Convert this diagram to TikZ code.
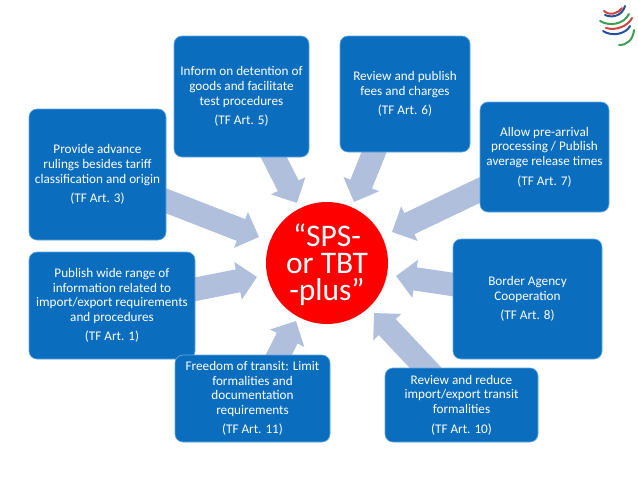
\documentclass[tikz,border=0pt]{standalone}
\usepackage{fontspec}
\setmainfont{Carlito}
\usepackage{xcolor}
\definecolor{tfblue}{HTML}{0A6DBE}
\definecolor{tfedge}{HTML}{5FA8E0}
\definecolor{arrowblue}{HTML}{AFBFDC}
\definecolor{wtored}{HTML}{D0443F}
\definecolor{wtoblue}{HTML}{27509B}
\definecolor{wtogreen}{HTML}{3E9E55}
\usetikzlibrary{arrows.meta, positioning, backgrounds}

\begin{document}
\begin{tikzpicture}[
    x=0.75pt, y=-0.75pt,
    tf_box/.style={rectangle, rounded corners=6pt, fill=tfblue, draw=tfedge, line width=0.5pt, text=white, font=\fontsize{9.9}{11}\selectfont, align=center, inner sep=0pt},
    hub/.style={circle, fill=red, text=white, minimum size=91.5pt, inner sep=0pt, align=center, font=\fontsize{23.6}{20.2}\selectfont},
    block_arrow/.style={-{Triangle[width=28pt, length=14.5pt]}, line width=17.5pt, color=arrowblue, shorten <=-8pt},
    logo_arc/.style={line width=1.5pt, line cap=round}
]
\useasboundingbox (0,0) rectangle (638,479);

% BOXES
\node[tf_box, minimum width=102.75pt, minimum height=98.25pt] (art3) at (97.5,174.5) {Provide advance\\rulings besides tariff\\classification and origin\\[3.6pt](TF Art. 3)};
\node[tf_box, minimum width=101.25pt, minimum height=90.75pt] (art5) at (241.5,96.5) {Inform on detention of\\goods and facilitate\\test procedures\\[3.6pt](TF Art. 5)};
\node[tf_box, minimum width=97.5pt, minimum height=87pt] (art6) at (405,94) {Review and publish\\fees and charges\\[3.6pt](TF Art. 6)};
\node[tf_box, minimum width=96.75pt, minimum height=82.5pt] (art7) at (544.5,157) {Allow pre-arrival\\processing / Publish\\average release times\\[3.6pt](TF Art. 7)};
\node[tf_box, minimum width=111.75pt, minimum height=90pt] (art8) at (527.5,299) {Border Agency\\Cooperation\\[3.6pt](TF Art. 8)};
\node[tf_box, minimum width=114.75pt, minimum height=55.5pt] (art10) at (461.5,405) {Review and reduce\\import/export transit\\formalities\\[3.6pt](TF Art. 10)};
\node[tf_box, minimum width=124.5pt, minimum height=80.25pt] (art1) at (112,305.5) {Publish wide range of\\information related to\\import/export requirements\\and procedures\\[3.6pt](TF Art. 1)};
\node[tf_box, minimum width=116.25pt, minimum height=65.25pt] (art11) at (252.5,398.5) {Freedom of transit: Limit\\formalities and\\documentation\\requirements\\[3.6pt](TF Art. 11)};

% CENTRE
\node[hub] (sps) at (327,263) {\rule{0pt}{19.5pt}“SPS-\\or TBT\\-plus”};

% ARROWS
\coordinate (tip3) at (259,237);
\coordinate (tip5) at (297,203);
\coordinate (tip6) at (354,202);
\coordinate (tip7) at (392,232);
\coordinate (tip8) at (396,276);
\coordinate (tip10) at (374,313);
\coordinate (tip11) at (296,321);
\coordinate (tip1) at (257,277);
\begin{pgfonlayer}{background}
\draw[block_arrow] (art3.-21.6) -- (tip3);
\draw[block_arrow] (art5.-62.1) -- (tip5);
\draw[block_arrow] (art6.242.7) -- (tip6);
\draw[block_arrow] (art7.207.1) -- (tip7);
\draw[block_arrow] (art8.169.4) -- (tip8);
\draw[block_arrow] (art10.134.6) -- (tip10);
\draw[block_arrow] (art11.59.6) -- (tip11);
\draw[block_arrow] (art1.11.2) -- (tip1);
\end{pgfonlayer}

% LOGO
\draw[logo_arc, wtored] (604,11) .. controls (610,16) and (617,14) .. (622,8);
\draw[logo_arc, wtoblue] (605,15) .. controls (614,19) and (623,14) .. (625,6);
\draw[logo_arc, wtogreen] (600,21) .. controls (610,27) and (624,24) .. (629,14);
\draw[logo_arc, wtored] (606,28) .. controls (616,31) and (628,26) .. (632,18);
\draw[logo_arc, wtoblue] (603,31) .. controls (612,37) and (626,34) .. (630,26);
\draw[logo_arc, wtogreen] (619,45) .. controls (627,45) and (633,40) .. (634,30);
\end{tikzpicture}
\end{document}
